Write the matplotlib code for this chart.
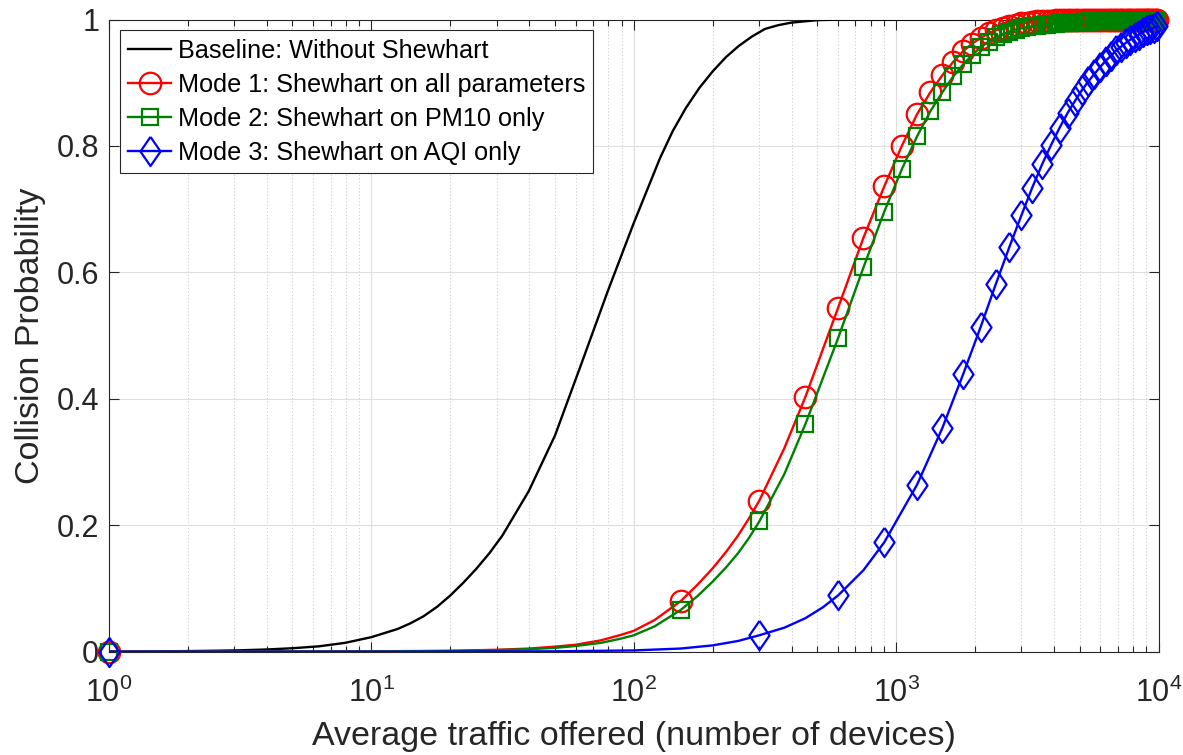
import matplotlib
matplotlib.use("Agg")
import matplotlib.pyplot as plt
from matplotlib.lines import Line2D
from matplotlib.ticker import LogLocator, NullFormatter, FixedLocator, FixedFormatter

plt.rcParams['font.family'] = ['Liberation Sans', 'DejaVu Sans']
plt.rcParams['mathtext.fontset'] = 'custom'
plt.rcParams['mathtext.rm'] = 'Liberation Sans'
plt.rcParams['mathtext.it'] = 'Liberation Sans:italic'
plt.rcParams['mathtext.bf'] = 'Liberation Sans:bold'

# ---------------- data ----------------
# Baseline: collision probability without Shewhart filtering
baseline_x = [1, 1.26, 1.58, 2, 2.51, 3.16, 3.98, 5.01, 6.31, 7.94, 10, 12.6, 14.1,
              15.8, 17.8, 20, 22.4, 25.1, 28.2, 31.6, 39.8, 50.1, 63.1, 79.4, 100,
              126, 141, 158, 178, 200, 224, 251, 282, 316, 355, 398, 501, 631, 10000]
baseline_p = [0.0, 0.0003, 0.0006, 0.001, 0.0015, 0.0022, 0.0035, 0.0055, 0.0085,
              0.014, 0.023, 0.036, 0.045, 0.056, 0.071, 0.089, 0.109, 0.131, 0.156,
              0.184, 0.254, 0.342, 0.455, 0.569, 0.678, 0.781, 0.824, 0.860, 0.892,
              0.918, 0.940, 0.958, 0.973, 0.985, 0.991, 0.995, 0.999, 1.0, 1.0]

# Marked samples: modes 1 and 2 every 150 devices, mode 3 every 300 devices
mode12_x = list(range(1, 10001, 150))
mode3_x = list(range(1, 10001, 300))

mode1_p = [0.0, 0.080, 0.239, 0.403, 0.544, 0.655, 0.736, 0.800, 0.850, 0.885,
           0.912, 0.933, 0.950, 0.962, 0.971, 0.978, 0.983, 0.987, 0.990, 0.992,
           0.994, 0.995, 0.996, 0.997, 0.997, 0.998, 0.998,
           0.999, 0.999, 0.999, 0.999, 0.999, 0.999, 0.999, 0.999, 0.999, 0.999,
           1.0, 1.0, 1.0, 1.0, 1.0, 1.0, 1.0, 1.0, 1.0, 1.0,
           1.0, 1.0, 1.0, 1.0, 1.0, 1.0, 1.0, 1.0, 1.0, 1.0,
           1.0, 1.0, 1.0, 1.0, 1.0, 1.0, 1.0, 1.0, 1.0, 1.0]

mode2_p = [0.0, 0.066, 0.206, 0.360, 0.496, 0.608, 0.696, 0.763, 0.815, 0.855,
           0.885, 0.910, 0.929, 0.944, 0.956, 0.965, 0.972, 0.977, 0.981, 0.984,
           0.986, 0.988, 0.989, 0.990, 0.991, 0.992, 0.993,
           0.993, 0.994, 0.994, 0.995, 0.995, 0.995, 0.996, 0.996, 0.996, 0.996,
           0.997, 0.997, 0.997, 0.997, 0.997, 0.997, 0.998, 0.998, 0.998, 0.998,
           0.998, 0.998, 0.998, 0.998, 0.998, 0.998, 0.998, 0.998, 0.998, 0.998,
           0.998, 0.998, 0.998, 0.998, 0.998, 0.998, 0.998, 0.998, 0.998, 0.998]

mode3_p = [0.0, 0.026, 0.089, 0.173, 0.264, 0.354, 0.439, 0.514, 0.582, 0.640,
           0.690, 0.734, 0.771, 0.802, 0.829, 0.852, 0.871, 0.888, 0.902, 0.914,
           0.925, 0.935, 0.943, 0.951, 0.957, 0.963, 0.968, 0.972, 0.976, 0.980,
           0.983, 0.985, 0.987, 0.989]

# Additional unmarked samples along each curve
mode1_extra_x = [10, 20, 30, 40, 50, 60, 75, 90, 100, 120, 175, 200, 225, 250, 275, 375]
mode1_extra_p = [0.0005, 0.0015, 0.003, 0.005, 0.008, 0.011, 0.018, 0.027, 0.033,
                 0.050, 0.106, 0.132, 0.158, 0.184, 0.211, 0.322]
mode2_extra_x = [10, 20, 30, 40, 50, 60, 75, 90, 100, 120, 175, 200, 225, 250, 275, 375]
mode2_extra_p = [0.0004, 0.001, 0.0025, 0.004, 0.006, 0.009, 0.014, 0.021, 0.026,
                 0.040, 0.088, 0.111, 0.1335, 0.156, 0.180, 0.281]
mode3_extra_x = [10, 50, 100, 151, 200, 250, 375, 451, 525, 751]
mode3_extra_p = [0.0, 0.0006, 0.002, 0.005, 0.010, 0.017, 0.038, 0.053, 0.070, 0.129]

labels = ["Baseline: Without Shewhart",
          "Mode 1: Shewhart on all parameters",
          "Mode 2: Shewhart on PM10 only",
          "Mode 3: Shewhart on AQI only"]

x_ticks = [1, 10, 100, 1000, 10000]
y_ticks = [0, 0.2, 0.4, 0.6, 0.8, 1.0]
y_tick_labels = ["0", "0.2", "0.4", "0.6", "0.8", "1"]


def merge(xm, pm, xe, pe):
    pts = sorted(zip(list(xm) + list(xe), list(pm) + list(pe)))
    return [p[0] for p in pts], [p[1] for p in pts]


# ---------------- figure ----------------
fig = plt.figure(figsize=(11.83, 7.55), dpi=100)
ax = fig.add_axes([109 / 1183, 1 - 651.7 / 755, (1158.5 - 109) / 1183, (651.7 - 19.5) / 755])

dark = '#262626'
RED, GREEN, BLUE = '#ff0000', '#008000', '#0000ff'
lw = 1.7
mew = 1.6
ms_o, ms_s, ms_d = 15.5, 11.5, 21
diamond = [(0, 1), (0.69, 0), (0, -1), (-0.69, 0), (0, 1)]

ax.plot(baseline_x, baseline_p, color='black', lw=lw, zorder=3)

x1, p1 = merge(mode12_x, mode1_p, mode1_extra_x, mode1_extra_p)
ax.plot(x1, p1, color=RED, lw=lw, zorder=4)
ax.plot(mode12_x, mode1_p, ls='none', marker='o', ms=ms_o, mfc='none', mec=RED, mew=mew,
        zorder=4, clip_on=False)

x2, p2 = merge(mode12_x, mode2_p, mode2_extra_x, mode2_extra_p)
ax.plot(x2, p2, color=GREEN, lw=lw, zorder=5)
ax.plot(mode12_x, mode2_p, ls='none', marker='s', ms=ms_s, mfc='none', mec=GREEN, mew=mew,
        zorder=5, clip_on=False)

x3, p3 = merge(mode3_x, mode3_p, mode3_extra_x, mode3_extra_p)
ax.plot(x3, p3, color=BLUE, lw=lw, zorder=6)
ax.plot(mode3_x, mode3_p, ls='none', marker=diamond, ms=ms_d, mfc='none', mec=BLUE, mew=mew,
        zorder=6, clip_on=False)

ax.set_xscale('log')
ax.set_xlim(1, 10000)
ax.set_ylim(0, 1)

ax.xaxis.set_major_locator(FixedLocator(x_ticks))
ax.xaxis.set_minor_locator(LogLocator(base=10, subs=range(2, 10), numticks=20))
ax.xaxis.set_minor_formatter(NullFormatter())
ax.yaxis.set_major_locator(FixedLocator(y_ticks))
ax.yaxis.set_major_formatter(FixedFormatter(y_tick_labels))

ax.set_axisbelow(True)
ax.grid(True, which='major', color='#dedede', lw=0.8, ls='-')
ax.grid(True, which='minor', axis='x', color='#cccccc', lw=0.8, ls=(0, (1, 2)))

for s in ax.spines.values():
    s.set_color(dark)
    s.set_linewidth(0.8)

ax.tick_params(which='both', direction='in', top=True, right=True, color=dark,
               labelcolor=dark, width=0.8)
ax.tick_params(which='major', length=7.5, labelsize=22)
ax.tick_params(axis='x', which='major', pad=19)
ax.tick_params(axis='y', which='major', pad=7)
ax.tick_params(which='minor', length=4.5)

ax.set_xlabel("Average traffic offered (number of devices)", fontsize=24.5, color=dark, labelpad=8)
ax.set_ylabel("Collision Probability", fontsize=24.5, color=dark, labelpad=8)

handles = [
    Line2D([], [], color='black', lw=lw),
    Line2D([], [], color=RED, lw=lw, marker='o', ms=ms_o, mfc='none', mec=RED, mew=mew),
    Line2D([], [], color=GREEN, lw=lw, marker='s', ms=ms_s, mfc='none', mec=GREEN, mew=mew),
    Line2D([], [], color=BLUE, lw=lw, marker=diamond, ms=ms_d, mfc='none', mec=BLUE, mew=mew),
]
leg = ax.legend(handles, labels, loc='upper left', bbox_to_anchor=(0.0105, 0.983),
                borderaxespad=0, fontsize=18.2, numpoints=1, handlelength=1.7,
                handletextpad=0.25, labelspacing=0.4, borderpad=0.33,
                fancybox=False, framealpha=1, edgecolor=dark)
leg.get_frame().set_linewidth(0.8)
leg.set_zorder(10)

fig.savefig("out.png", dpi=100, facecolor='white')
